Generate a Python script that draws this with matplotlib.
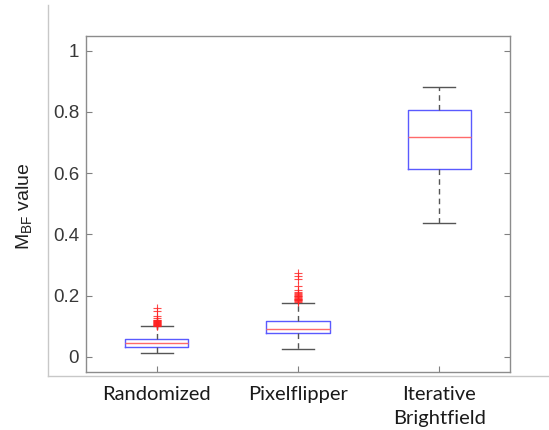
import matplotlib
matplotlib.use("Agg")
import matplotlib.pyplot as plt
from matplotlib.lines import Line2D

categories = ["Randomized", "Pixelflipper", "Iterative\nBrightfield"]
medians = [0.045, 0.090, 0.717]
q1 = [0.032, 0.076, 0.613]
q3 = [0.059, 0.117, 0.805]
whislo = [0.011, 0.025, 0.438]
whishi = [0.099, 0.177, 0.883]
outliers_randomized = [0.100, 0.102, 0.104, 0.105, 0.106, 0.108, 0.110, 0.111, 0.112,
                       0.114, 0.116, 0.118, 0.120, 0.121, 0.126, 0.134, 0.150, 0.159]
outliers_pixelflipper = [0.180, 0.182, 0.184, 0.186, 0.188, 0.190, 0.192, 0.194, 0.197,
                         0.200, 0.203, 0.206, 0.209, 0.213, 0.219, 0.230, 0.254, 0.265, 0.275]
outliers_iterative = []
ylabel_text = r"M$_{\mathregular{BF}}$ value"
yticks = [0, 0.2, 0.4, 0.6, 0.8, 1]
ytick_labels = ["0", "0.2", "0.4", "0.6", "0.8", "1"]

fliers = [outliers_randomized, outliers_pixelflipper, outliers_iterative]
stats = []
for i in range(len(categories)):
    stats.append(dict(med=medians[i], q1=q1[i], q3=q3[i], whislo=whislo[i],
                      whishi=whishi[i], fliers=fliers[i]))

fig = plt.figure(figsize=(5.49, 4.30), dpi=100)
ax = fig.add_axes([86/549, (430-372)/430, 424/549, (372-35.5)/430])

ax.bxp(stats, positions=[1, 2, 3], widths=0.45, capwidths=0.225,
       boxprops=dict(color="#5a5aff", linewidth=1.0),
       medianprops=dict(color="#ff6a6a", linewidth=1.0),
       whiskerprops=dict(color="#555555", linewidth=1.0, linestyle=(0, (4, 3))),
       capprops=dict(color="#555555", linewidth=1.0),
       flierprops=dict(marker="+", markeredgecolor="#ff2020", markersize=6,
                       markeredgewidth=0.8, linestyle="none", alpha=0.8))

ax.set_xlim(0.5, 3.5)
ax.set_ylim(-0.05, 1.05)
ax.set_yticks(yticks)
ax.set_yticklabels(ytick_labels, fontfamily="Liberation Sans", fontsize=13.5, color="#383838")
ax.set_xticks([1, 2, 3])
ax.set_xticklabels(categories, fontfamily="Lato", fontsize=14.5, color="#1a1a1a",
                   linespacing=1.5)
ax.tick_params(axis="both", direction="in", length=4, width=0.8, color="#808080")
ax.tick_params(axis="y", right=True, pad=5)
ax.tick_params(axis="x", pad=10)
for s in ax.spines.values():
    s.set_color("#8c8c8c")
    s.set_linewidth(1.0)

fig.text(25/549, 1 - 206/430, ylabel_text, rotation=90, ha="center", va="center",
         fontfamily="Liberation Sans", fontsize=14, color="#202020")

fig.add_artist(Line2D([48/549, 48/549], [1 - 5/430, 1 - 376/430], transform=fig.transFigure,
                      color="#c8c8c8", linewidth=1.0))
fig.add_artist(Line2D([48/549, 1.0], [1 - 376/430, 1 - 376/430], transform=fig.transFigure,
                      color="#c8c8c8", linewidth=1.0))

fig.savefig("out.png", dpi=100, facecolor="white")
